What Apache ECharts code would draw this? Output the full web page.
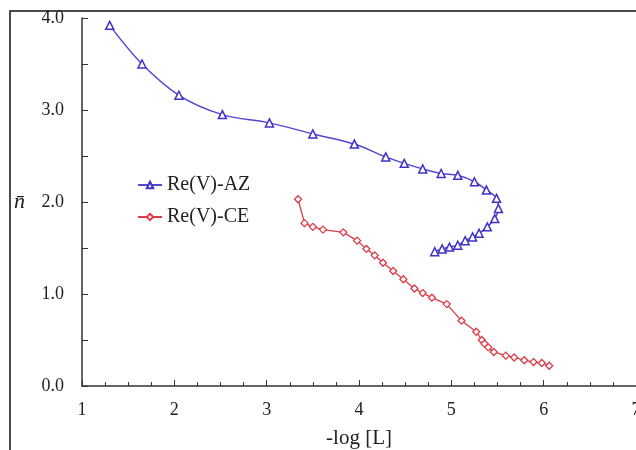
<!DOCTYPE html>
<html><head><meta charset="utf-8">
<script src="https://cdn.jsdelivr.net/npm/echarts@6/dist/echarts.min.js"></script>
<style>html,body{margin:0;padding:0;background:#fff}#c{width:636px;height:450px}</style>
</head><body><div id="c"></div>
<script>
var azX = [1.30,1.65,2.05,2.52,3.03,3.50,3.95,4.29,4.49,4.69,4.89,5.07,5.25,5.38,5.49,5.51,5.47,5.39,5.30,5.23,5.15,5.07,4.98,4.90,4.82];
var azY = [3.92,3.50,3.16,2.95,2.86,2.74,2.63,2.49,2.42,2.36,2.31,2.29,2.22,2.13,2.04,1.93,1.82,1.73,1.66,1.62,1.58,1.53,1.51,1.49,1.46];
var ceX = [3.34,3.41,3.50,3.61,3.83,3.98,4.08,4.17,4.26,4.37,4.48,4.60,4.69,4.79,4.95,5.11,5.27,5.33,5.36,5.40,5.46,5.59,5.68,5.79,5.89,5.98,6.06];
var ceY = [2.03,1.77,1.73,1.70,1.67,1.58,1.49,1.42,1.34,1.25,1.16,1.06,1.01,0.96,0.89,0.71,0.59,0.50,0.46,0.42,0.37,0.33,0.31,0.28,0.26,0.25,0.22];
var seriesNames = ['Re(V)-AZ','Re(V)-CE'];
var xTitle = '-log [L]';
var yTitle = 'n\u0304';

function pairs(xs, ys){ return xs.map(function(x,i){return [x, ys[i]];}); }
var FONT = '"Liberation Serif", "DejaVu Serif", serif';
var chart = echarts.init(document.getElementById('c'), null, {renderer:'canvas'});
chart.setOption({
  animation:false,
  backgroundColor:'#fff',
  textStyle:{fontFamily:FONT},
  grid:{left:82, top:18, right:0, bottom:64, containLabel:false, outerBoundsMode:'none'},
  graphic:[{type:'rect', shape:{x:10, y:11, width:700, height:500}, style:{fill:'none', stroke:'#111', lineWidth:1.5}, silent:true, z:-1}],
  legend:{
    orient:'vertical', left:134, top:170, itemGap:12, itemWidth:24, itemHeight:8, padding:[5,3,5,3],
    textStyle:{fontFamily:FONT, fontSize:20, color:'#222'},
    data:seriesNames
  },
  xAxis:{
    type:'value', min:1, max:7, interval:1,
    name:xTitle, nameLocation:'middle', nameGap:42,
    nameTextStyle:{fontFamily:FONT, fontSize:21, color:'#222'},
    axisLine:{lineStyle:{color:'#333', width:1.5}},
    axisTick:{inside:true, length:6, lineStyle:{color:'#333'}},
    minorTick:{show:true, splitNumber:4, length:4, lineStyle:{color:'#333'}},
    splitLine:{show:false},
    axisLabel:{fontFamily:FONT, fontSize:18, color:'#222', margin:15}
  },
  yAxis:{
    type:'value', min:0, max:4, interval:1,
    name:yTitle, nameLocation:'middle', nameRotate:0, nameGap:57,
    nameTextStyle:{fontFamily:FONT, fontSize:22, fontStyle:'italic', color:'#222', padding:[0,0,8,0]},
    axisLine:{show:true, lineStyle:{color:'#333', width:1.5}},
    axisTick:{show:true, inside:true, length:6, lineStyle:{color:'#333'}},
    minorTick:{show:true, splitNumber:2, length:6, lineStyle:{color:'#333'}},
    splitLine:{show:false},
    axisLabel:{fontFamily:FONT, fontSize:18, color:'#222', margin:18, formatter:function(v){return v.toFixed(1);}}
  },
  series:[
    {name:seriesNames[0], type:'line', data:pairs(azX, azY), smooth:0.35,
     symbol:'triangle', symbolSize:8, lineStyle:{color:'#5548d0', width:1.5},
     itemStyle:{color:'#fff', borderColor:'#3f32c8', borderWidth:1.5}},
    {name:seriesNames[1], type:'line', data:pairs(ceX, ceY), smooth:false,
     symbol:'diamond', symbolSize:7, lineStyle:{color:'#dd3c48', width:1.3},
     itemStyle:{color:'#fff', borderColor:'#dd3c48', borderWidth:1.3}}
  ]
});
</script></body></html>
